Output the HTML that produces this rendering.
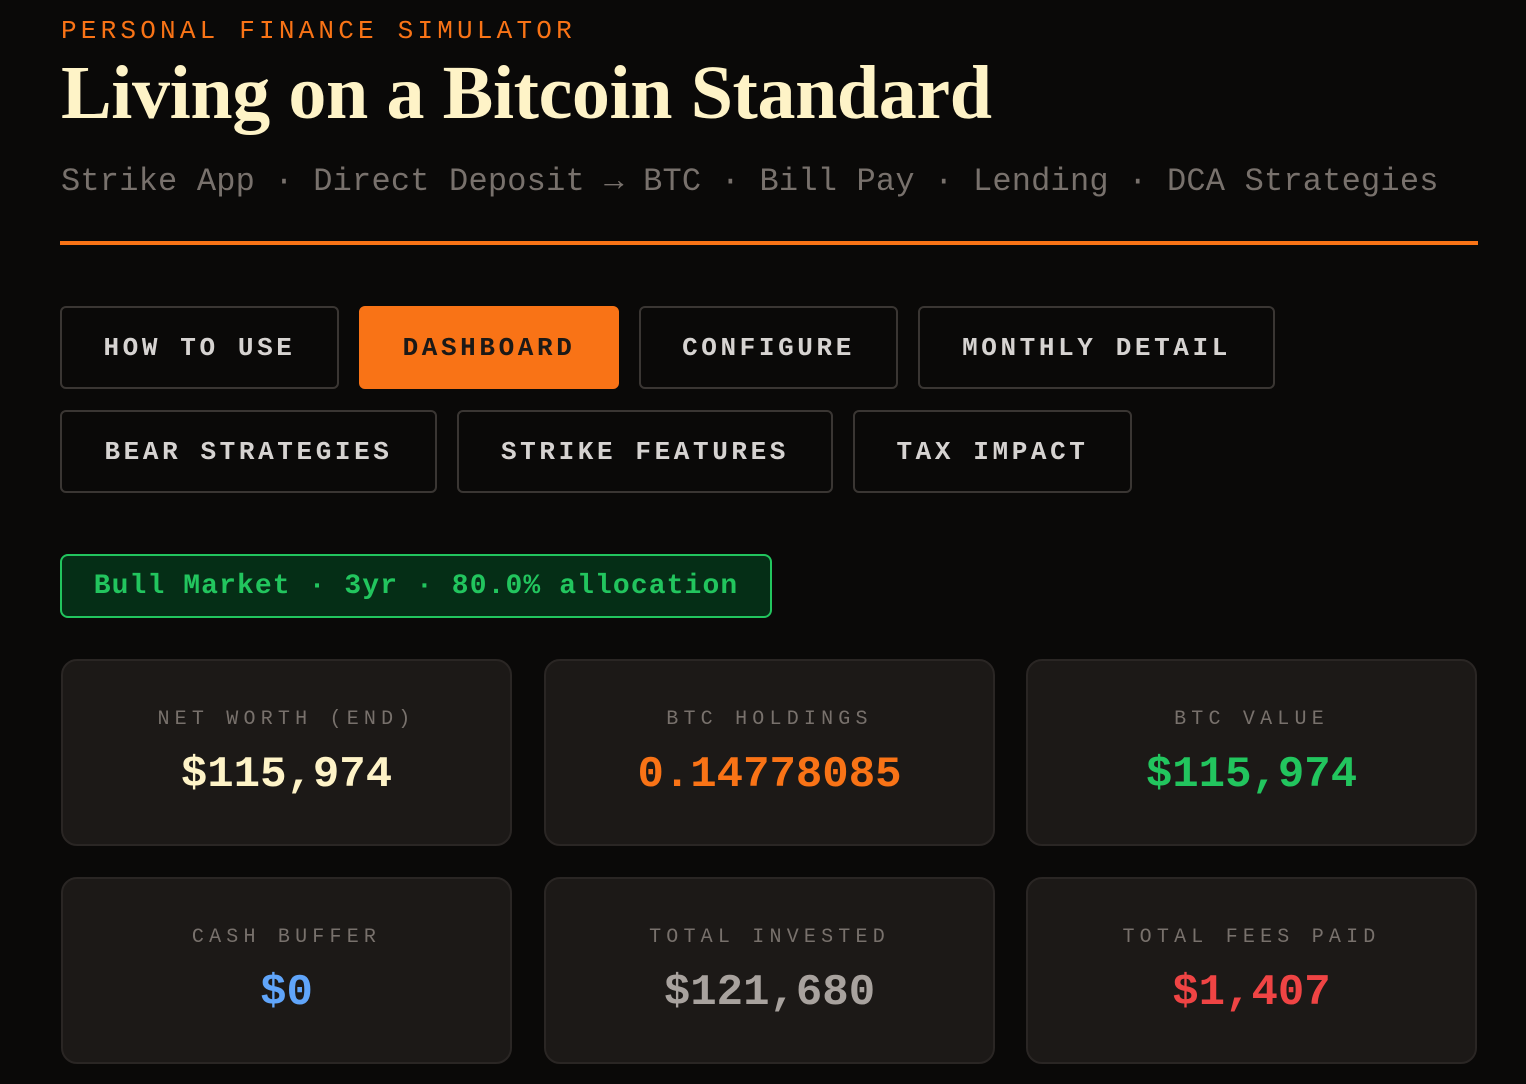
<!DOCTYPE html>
<html><head><meta charset="utf-8"><style>
body{margin:0;width:1526px;height:1084px;background:#0a0908;overflow:hidden;position:relative;font-family:"Liberation Mono",monospace}
.a{position:absolute}
.tab{position:absolute;box-sizing:border-box;height:83px;border:2px solid #3a3633;border-radius:6px;color:#d6d3d1;font-weight:bold;font-size:26px;letter-spacing:3.6px;display:flex;align-items:center;justify-content:center}
.card{position:absolute;box-sizing:border-box;width:451px;height:187px;background:#1c1917;border:2px solid #2a2624;border-radius:16px}
.lbl{position:absolute;top:47px;width:100%;text-align:center;font-size:20px;letter-spacing:5.2px;color:#78716c}
.val{position:absolute;top:89px;width:100%;text-align:center;font-size:44px;font-weight:bold}
</style></head><body>
<div class="a" style="left:61px;top:16px;color:#f97316;font-size:26px;letter-spacing:4.2px">PERSONAL FINANCE SIMULATOR</div>
<div class="a" style="left:61px;top:50px;color:#fef3c7;font-family:'Liberation Serif',serif;font-weight:bold;font-size:76px;letter-spacing:-0.4px;white-space:nowrap">Living on a Bitcoin Standard</div>
<div class="a" style="left:61px;top:163px;color:#78716c;font-size:32px;letter-spacing:0.2px;white-space:nowrap">Strike App · Direct Deposit → BTC · Bill Pay · Lending · DCA Strategies</div>
<div class="a" style="left:60px;top:241px;width:1418px;height:4px;background:#f97316"></div>

<div class="tab" style="left:60px;top:306px;width:279px">HOW TO USE</div>
<div class="tab" style="left:359px;top:306px;width:260px;background:#f97316;border-color:#f97316;color:#1c1917">DASHBOARD</div>
<div class="tab" style="left:639px;top:306px;width:259px">CONFIGURE</div>
<div class="tab" style="left:918px;top:306px;width:357px">MONTHLY DETAIL</div>
<div class="tab" style="left:60px;top:410px;width:377px">BEAR STRATEGIES</div>
<div class="tab" style="left:457px;top:410px;width:376px">STRIKE FEATURES</div>
<div class="tab" style="left:853px;top:410px;width:279px">TAX IMPACT</div>

<div class="a" style="left:60px;top:554px;width:712px;height:64px;box-sizing:border-box;background:#052e16;border:2px solid #22c55e;border-radius:8px;color:#22c55e;font-weight:bold;font-size:28px;letter-spacing:1.1px;display:flex;align-items:center;justify-content:center;white-space:nowrap">Bull Market · 3yr · 80.0% allocation</div>

<div class="card" style="left:61px;top:659px"><div class="lbl">NET WORTH (END)</div><div class="val" style="color:#fef3c7">$115,974</div></div>
<div class="card" style="left:544px;top:659px"><div class="lbl">BTC HOLDINGS</div><div class="val" style="color:#f97316">0.14778085</div></div>
<div class="card" style="left:1026px;top:659px"><div class="lbl">BTC VALUE</div><div class="val" style="color:#22c55e">$115,974</div></div>
<div class="card" style="left:61px;top:877px"><div class="lbl">CASH BUFFER</div><div class="val" style="color:#60a5fa">$0</div></div>
<div class="card" style="left:544px;top:877px"><div class="lbl">TOTAL INVESTED</div><div class="val" style="color:#a8a29e">$121,680</div></div>
<div class="card" style="left:1026px;top:877px"><div class="lbl">TOTAL FEES PAID</div><div class="val" style="color:#ef4444">$1,407</div></div>
</body></html>
